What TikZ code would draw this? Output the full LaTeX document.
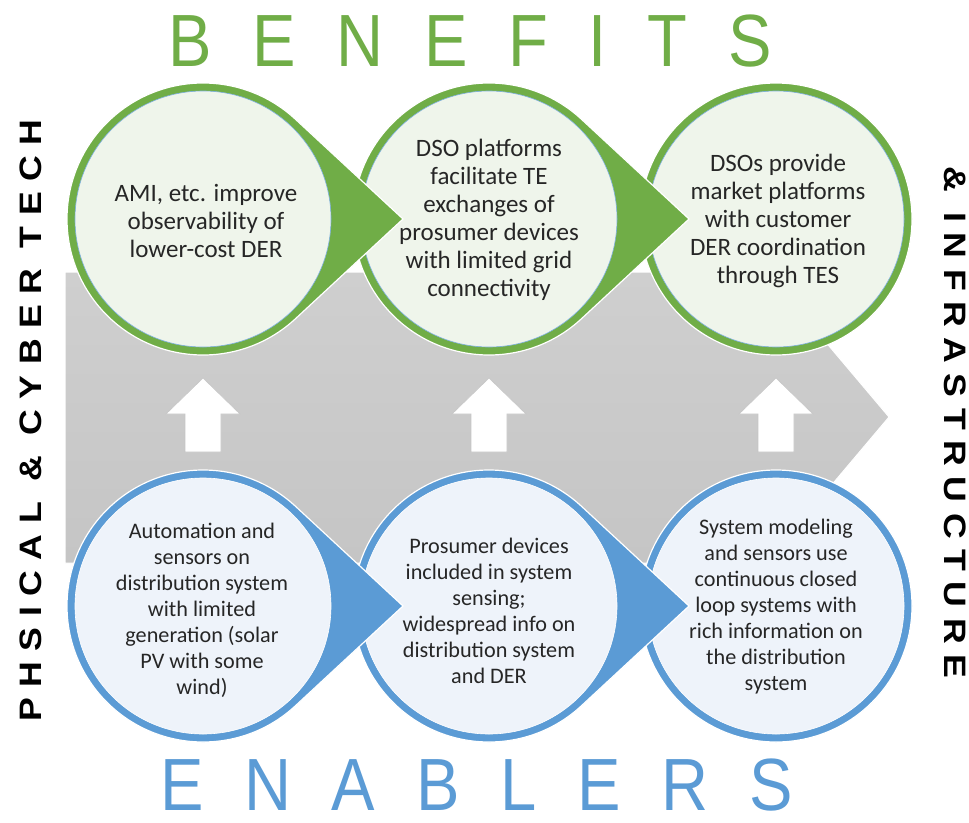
\documentclass[tikz,border=0pt]{standalone}
\usepackage{fontspec}
\setmainfont{Carlito}
\newfontfamily\titlefont[LetterSpace=55,FakeStretch=0.88]{Liberation Sans}
\newfontfamily\sidefont[LetterSpace=34,FakeStretch=1.15]{Liberation Sans}
\definecolor{benefitgreen}{HTML}{70AD47}
\definecolor{benefitfill}{HTML}{EFF5EB}
\definecolor{enablerblue}{HTML}{5B9BD5}
\definecolor{enablerfill}{HTML}{EEF3FA}
\definecolor{arrowtop}{HTML}{D2D2D2}
\definecolor{arrowbottom}{HTML}{C2C2C2}
\definecolor{bubbleink}{HTML}{262626}
\tikzset{
  ringgreen/.style={fill=benefitgreen, draw=white, line width=1.2pt},
  ringblue/.style={fill=enablerblue, draw=white, line width=1.2pt},
  innergreen/.style={fill=benefitfill, draw=enablerblue!80, line width=0.6pt},
  innerblue/.style={fill=enablerfill, draw=white, line width=0.6pt},
  uparrow/.style={fill=white, draw=gray!45, line width=0.6pt},
  bubbletext/.style={align=center, text=bubbleink, inner sep=0pt, font=\fontsize{25}{28}\selectfont},
  smallbubbletext/.style={bubbletext, font=\fontsize{22.2}{26}\selectfont},
  titlebox/.style={inner sep=0pt, font=\titlefont\fontsize{74}{74}\selectfont},
  sidebox/.style={inner sep=0pt, font=\sidefont\bfseries\fontsize{31}{31}\selectfont}
}
\begin{document}
\begin{tikzpicture}[x=1pt,y=-1pt]
    \useasboundingbox (0,0) rectangle (969,822);

    \shade[top color=arrowtop, bottom color=arrowbottom, draw=white, line width=1pt]
        (65,272) -- (694,272) -- (694,186) -- (889,417) -- (694,648) -- (694,563) -- (65,563) -- cycle;
    \foreach \x in {203,489,776}
        \draw[uparrow] (\x-18,452) -- (\x-18,414) -- (\x-37,414) -- (\x,378) -- (\x+37,414) -- (\x+18,414) -- (\x+18,452) -- cycle;

    \draw[ringgreen] (776,219) circle (136);
    \draw[innergreen] (776,219) circle (128);
    \draw[ringgreen] (489,219) ++(47:136) arc[start angle=47, end angle=313, radius=136] -- (689,219) -- cycle;
    \draw[innergreen] (489,219) circle (128);
    \draw[ringgreen] (203,219) ++(47:136) arc[start angle=47, end angle=313, radius=136] -- (403,219) -- cycle;
    \draw[innergreen] (203,219) circle (128);

    \draw[ringblue] (776,606) circle (136);
    \draw[innerblue] (776,606) circle (128);
    \draw[ringblue] (489,606) ++(47:136) arc[start angle=47, end angle=313, radius=136] -- (689,606) -- cycle;
    \draw[innerblue] (489,606) circle (128);
    \draw[ringblue] (203,606) ++(47:136) arc[start angle=47, end angle=313, radius=136] -- (403,606) -- cycle;
    \draw[innerblue] (203,606) circle (128);

    \node[bubbletext] (ami) at (206,221) {AMI, etc. improve\\observability of\\lower-cost DER};
    \node[bubbletext] (dsoplatforms) at (489,220) {DSO platforms\\facilitate TE\\exchanges of\\prosumer devices\\with limited grid\\connectivity};
    \node[bubbletext] (dsomarket) at (778,221) {DSOs provide\\market platforms\\with customer\\DER coordination\\through TES};
    \node[smallbubbletext] (automation) at (202,610) {Automation and\\sensors on\\distribution system\\with limited\\generation (solar\\PV with some\\wind)};
    \node[smallbubbletext] (prosumer) at (489,611) {Prosumer devices\\included in system\\sensing;\\widespread info on\\distribution system\\and DER};
    \node[smallbubbletext] (modeling) at (776,607) {System modeling\\and sensors use\\continuous closed\\loop systems with\\rich information on\\the distribution\\system};

    \node[titlebox, text=benefitgreen, anchor=base west] (benefits) at (168,66) {BENEFITS};
    \node[titlebox, text=enablerblue, anchor=base west] (enablers) at (160,810) {ENABLERS};
    \node[sidebox, rotate=90, anchor=west] (physical) at (31,722) {PHSICAL \& CYBER TECH};
    \node[sidebox, rotate=-90, anchor=west] (infra) at (955,166) {\& INFRASTRUCTURE};
\end{tikzpicture}
\end{document}
